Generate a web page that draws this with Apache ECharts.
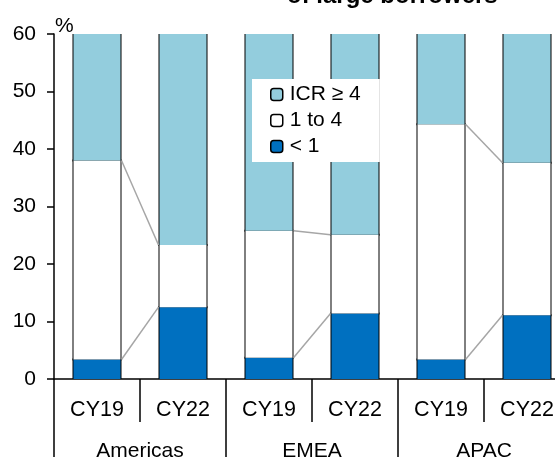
<!DOCTYPE html>
<html>
<head>
    <meta charset="utf-8">
    <script src="https://cdn.jsdelivr.net/npm/echarts@6/dist/echarts.min.js"></script>
    <title></title>
    <style>
        html, body { margin: 0; padding: 0; background: #fff; }
        #myChart { width: 555px; height: 457px; }
    </style>
</head>
<body>
<div id="myChart"></div>
<script>
    // categories
    var periods = ['CY19', 'CY22', 'CY19', 'CY22', 'CY19', 'CY22'];
    var regions = ['Americas', 'EMEA', 'APAC'];
    // shares of large borrowers by ICR bucket, %
    var lowIcr = [3.4, 12.5, 3.7, 11.4, 3.4, 11.1];     // < 1
    var midIcr = [34.6, 10.8, 22.1, 13.7, 40.9, 26.5];  // 1 to 4
    var highIcr = [62.0, 76.7, 74.2, 74.9, 55.7, 62.4]; // ICR >= 4
    var yTicks = [0, 10, 20, 30, 40, 50, 60];

    var font = 'Liberation Sans, Arial, sans-serif';
    var barW = 47;

    // connector lines: CY19 -> CY22 in each region, at top of "< 1" and top of "1 to 4"
    var links = [];
    for (var r = 0; r < regions.length; r++) {
        var a = r * 2, b = r * 2 + 1;
        links.push([a, lowIcr[a], b, lowIcr[b]]);
        links.push([a, lowIcr[a] + midIcr[a], b, lowIcr[b] + midIcr[b]]);
    }
    // outlines of each stacked bar (cumulative segment tops)
    var outlines = periods.map(function (p, i) {
        return [i, lowIcr[i], lowIcr[i] + midIcr[i], lowIcr[i] + midIcr[i] + highIcr[i]];
    });

    var myChart = echarts.init(document.getElementById('myChart'));
    myChart.setOption({
        animation: false,
        title: {
            text: 'of large borrowers',
            left: 282,
            top: -21,
            textStyle: { fontFamily: font, fontSize: 24, fontWeight: 'bold', color: '#000' }
        },
        legend: {
            orient: 'vertical',
            left: 252,
            top: 79,
            data: ['ICR ≥ 4', '1 to 4', '< 1'],
            backgroundColor: '#fff',
            padding: [5, 19, 5, 18],
            itemWidth: 12,
            itemHeight: 12,
            itemGap: 5,
            itemStyle: { borderColor: '#000', borderWidth: 1.5 },
            textStyle: { fontFamily: font, fontSize: 21, color: '#000', padding: [0, 0, 0, 2] }
        },
        grid: { left: 54, right: -15, top: 34, bottom: 78, outerBoundsMode: 'none' },
        xAxis: [
            {
                type: 'category',
                data: periods,
                position: 'bottom',
                axisLine: { lineStyle: { color: '#000', width: 1.5 } },
                axisTick: { show: true, interval: 0, length: 43, lineStyle: { color: '#000', width: 1.5 } },
                axisLabel: { interval: 0, margin: 20, fontFamily: font, fontSize: 21.5, color: '#000' }
            },
            {
                type: 'category',
                data: regions,
                position: 'bottom',
                axisLine: { show: false },
                axisTick: { show: true, interval: 0, length: 82, lineStyle: { color: '#000', width: 1.5 } },
                axisLabel: { interval: 0, margin: 62, fontFamily: font, fontSize: 21, color: '#000' }
            }
        ],
        yAxis: {
            type: 'value',
            min: 0,
            max: 60,
            interval: 10,
            name: '%',
            nameLocation: 'end',
            nameGap: -3,
            nameTextStyle: { fontFamily: font, fontSize: 21, color: '#000', align: 'left', padding: [0, 0, 0, 1] },
            splitLine: { show: false },
            axisLine: { show: true, lineStyle: { color: '#000', width: 1.5 } },
            axisTick: { show: true, length: 7, lineStyle: { color: '#000', width: 1.5 } },
            axisLabel: {
                margin: 18, fontFamily: font, fontSize: 21, color: '#000',
                customValues: yTicks
            }
        },
        series: [
            {
                name: '< 1',
                type: 'bar',
                stack: 'icr',
                barWidth: barW,
                data: lowIcr,
                itemStyle: { color: '#0070C0' }
            },
            {
                name: '1 to 4',
                type: 'bar',
                stack: 'icr',
                barWidth: barW,
                data: midIcr,
                itemStyle: { color: '#ffffff' }
            },
            {
                name: 'ICR ≥ 4',
                type: 'bar',
                stack: 'icr',
                barWidth: barW,
                data: highIcr,
                itemStyle: { color: '#93CDDD' }
            },
            {
                // black outlines: sides and segment boundaries, no line at the clipped top
                type: 'custom',
                silent: true,
                encode: { x: 0, y: [1, 2, 3] },
                data: outlines,
                renderItem: function (params, api) {
                    var cs = params.coordSys;
                    var i = api.value(0);
                    var base = api.coord([i, 0]);
                    var b1 = api.coord([i, api.value(1)]);
                    var b2 = api.coord([i, api.value(2)]);
                    var top = api.coord([i, api.value(3)]);
                    var yTop = Math.max(top[1], cs.y);
                    var xl = base[0] - barW / 2, xr = base[0] + barW / 2;
                    var st = { stroke: '#000', lineWidth: 2 };
                    var kids = [
                        { type: 'line', shape: { x1: xl, y1: base[1], x2: xl, y2: yTop }, style: st },
                        { type: 'line', shape: { x1: xr, y1: base[1], x2: xr, y2: yTop }, style: st }
                    ];
                    [b1, b2].forEach(function (p) {
                        if (p[1] > cs.y) {
                            kids.push({ type: 'line', shape: { x1: xl - 1, y1: p[1], x2: xr + 1, y2: p[1] }, style: st });
                        }
                    });
                    return { type: 'group', children: kids };
                }
            },
            {
                type: 'custom',
                silent: true,
                encode: { x: [0, 2], y: [1, 3] },
                data: links,
                renderItem: function (params, api) {
                    var p1 = api.coord([api.value(0), api.value(1)]);
                    var p2 = api.coord([api.value(2), api.value(3)]);
                    return {
                        type: 'line',
                        shape: { x1: p1[0] + barW / 2 + 1, y1: p1[1], x2: p2[0] - barW / 2 - 1, y2: p2[1] },
                        style: { stroke: '#A6A6A6', lineWidth: 1.5 }
                    };
                }
            }
        ]
    });
</script>
</body>
</html>
